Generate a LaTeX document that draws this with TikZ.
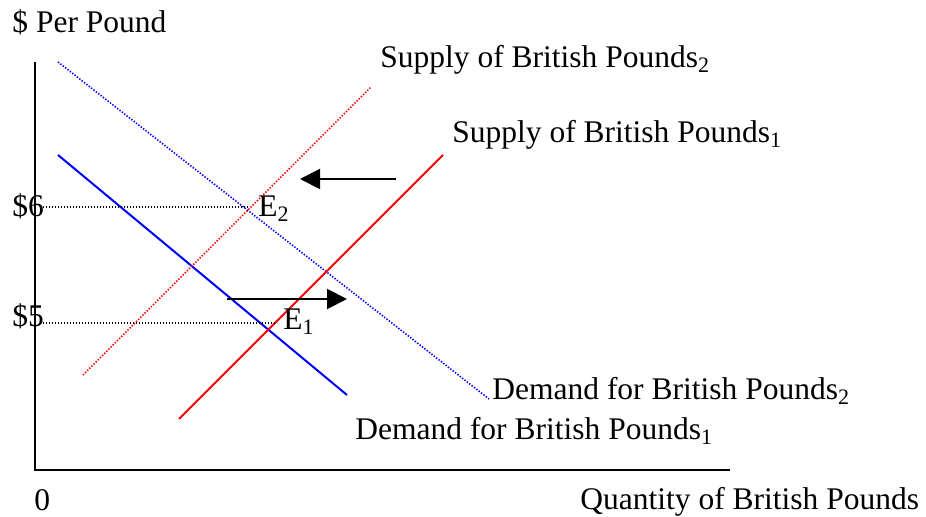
\documentclass[tikz,border=0pt]{standalone}
\usepackage{fontspec}
\setmainfont{Liberation Serif}
\usetikzlibrary{arrows.meta}
\begin{document}
\begin{tikzpicture}[x=0.5pt,y=-0.5pt,
  lbl/.style={anchor=base west,inner sep=0pt,font=\fontsize{15.75}{18}\selectfont},
  axis/.style={line width=1pt,black},
  solidcurve/.style={line width=1pt},
  dotcurve/.style={line width=0.8pt,dash pattern=on 0.7pt off 0.8pt},
  guide/.style={line width=0.7pt,black,dash pattern=on 0.6pt off 0.9pt},
  shiftarrow/.style={line width=1pt,black,-{Triangle[length=10pt,width=10pt]}}]
\useasboundingbox (0,0) rectangle (926,517);
% axes
\coordinate (ytop) at (35,62);
\coordinate (origin) at (35,470);
\coordinate (xend) at (730,470);
\draw[axis] (ytop) -- (origin) -- (xend);
% curve end points
\coordinate (d1a) at (58,155);
\coordinate (d1b) at (347,395);
\coordinate (d2a) at (58,62);
\coordinate (d2b) at (489,399);
\coordinate (s1a) at (179,419);
\coordinate (s1b) at (443,155);
\coordinate (s2a) at (83,375);
\coordinate (s2b) at (371,87);
\draw[solidcurve,blue] (d1a) -- (d1b);
\draw[dotcurve,blue] (d2a) -- (d2b);
\draw[solidcurve,red] (s1a) -- (s1b);
\draw[dotcurve,red] (s2a) -- (s2b);
% price guides
\coordinate (p6a) at (40,207);
\coordinate (p6b) at (248,207);
\coordinate (p5a) at (40,323);
\coordinate (p5b) at (277,323);
\draw[guide] (p6a) -- (p6b);
\draw[guide] (p5a) -- (p5b);
% shift arrows
\coordinate (la) at (396,179);
\coordinate (lb) at (300,179);
\coordinate (ra) at (227,299);
\coordinate (rb) at (347,299);
\draw[shiftarrow] (la) -- (lb);
\draw[shiftarrow] (ra) -- (rb);
% labels
\node[lbl] (ylab) at (12,33) {\$ Per Pound};
\node[lbl] (xlab) at (580,510) {Quantity of British Pounds};
\node[lbl] (zero) at (34,511) {0};
\node[lbl] (six) at (12,217) {\$6};
\node[lbl] (five) at (12,327) {\$5};
\node[lbl] (e2) at (258,217) {E\textsubscript{2}};
\node[lbl] (e1) at (283,330) {E\textsubscript{1}};
\node[lbl] (s2lab) at (380,68) {Supply of British Pounds\textsubscript{2}};
\node[lbl] (s1lab) at (452,143) {Supply of British Pounds\textsubscript{1}};
\node[lbl] (d2lab) at (492,400) {Demand for British Pounds\textsubscript{2}};
\node[lbl] (d1lab) at (355,440) {Demand for British Pounds\textsubscript{1}};
\end{tikzpicture}
\end{document}
